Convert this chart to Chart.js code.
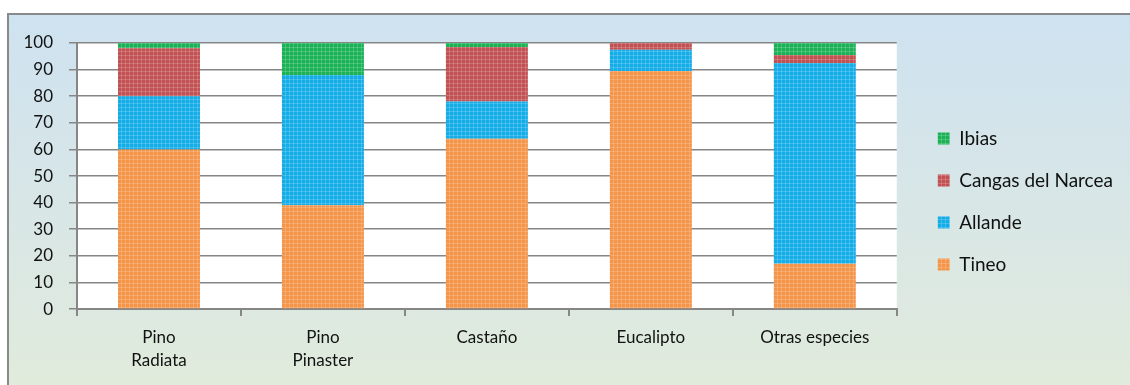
<!DOCTYPE html>
<html>
<head>
<meta charset="utf-8">
<script src="https://cdn.jsdelivr.net/npm/chart.js@4.4.0/dist/chart.umd.min.js"></script>
<style>
  html, body { margin: 0; padding: 0; background: #fff; overflow: hidden; }
  #frame {
    position: absolute; left: 7px; top: 13px;
    width: 1140px; height: 390px;
    border: 2px solid #898989;
    background: linear-gradient(to bottom, #cee2f0 0%, #d8e6e6 50%, #e2ecdb 100%);
  }
  #wrap { position: absolute; left: 0; top: 0; width: 1121px; height: 370px; }
</style>
</head>
<body>
<div id="frame"><div id="wrap"><canvas id="myChart"></canvas></div></div>
<script>
const categories = [["Pino", "Radiata"], ["Pino", "Pinaster"], "Castaño", "Eucalipto", "Otras especies"];
const tineo = [60, 39, 64, 89.5, 17];
const allande = [20, 49, 14, 8, 75.5];
const cangas = [18, 0, 20.5, 2.5, 3];
const ibias = [2, 12, 1.5, 0, 4.5];

// dotted fill like the office chart texture
function dots(base) {
  const c = document.createElement("canvas");
  c.width = 4; c.height = 4;
  const g = c.getContext("2d");
  g.fillStyle = base;
  g.fillRect(0, 0, 4, 4);
  g.fillStyle = "rgba(255,255,255,0.18)";
  g.fillRect(0, 0, 4, 1);
  g.fillRect(0, 0, 1, 4);
  return g.createPattern(c, "repeat");
}

const plotBg = {
  id: "plotBg",
  beforeDraw(chart) {
    const { ctx, chartArea: a } = chart;
    ctx.save();
    ctx.fillStyle = "#ffffff";
    ctx.fillRect(a.left, a.top, a.right - a.left, a.bottom - a.top);
    ctx.restore();
  },
};

const ctx = document.getElementById("myChart").getContext("2d");
const myChart = new Chart(ctx, {
  type: "bar",
  data: {
    labels: categories,
    datasets: [
      { label: "Tineo", data: tineo, backgroundColor: dots("#f4954a") },
      { label: "Allande", data: allande, backgroundColor: dots("#14ade8") },
      { label: "Cangas del Narcea", data: cangas, backgroundColor: dots("#c25154") },
      { label: "Ibias", data: ibias, backgroundColor: dots("#1bb156") },
    ],
  },
  options: {
    responsive: true,
    maintainAspectRatio: false,
    animation: false,
    categoryPercentage: 1,
    barPercentage: 0.5,
    layout: { padding: { left: 8, top: 28, right: 7, bottom: 3 } },
    plugins: {
      tooltip: { enabled: false },
      legend: {
        position: "right",
        fullSize: false,
        align: "start",
        reverse: true,
        maxWidth: 320,
        title: { display: true, text: " ", font: { size: 10, lineHeight: 1 }, padding: { top: 53, bottom: 0 } },
        labels: {
          boxWidth: 12,
          boxHeight: 12,
          padding: 23,
          color: "#111",
          font: { family: "Lato", size: 19 },
        },
      },
    },
    scales: {
      x: {
        stacked: true,
        grid: { display: true, drawOnChartArea: false, color: "#868686", lineWidth: 2, tickLength: 7 },
        border: { color: "#868686", width: 2 },
        ticks: { color: "#111", font: { family: "Lato", size: 17, lineHeight: 1.41 }, padding: 9, maxRotation: 0 },
      },
      y: {
        stacked: true,
        min: 0,
        max: 100,
        afterFit: (s) => { s.width = 60; },
        grid: { color: "#868686", lineWidth: 1.5, tickLength: 8 },
        border: { color: "#868686", width: 2 },
        ticks: { stepSize: 10, color: "#111", font: { family: "Lato", size: 17 }, padding: 16 },
      },
      gap: {
        position: "right",
        display: true,
        afterFit: (s) => { s.width = 18; },
        grid: { display: false },
        border: { display: false },
        ticks: { display: false },
      },
    },
  },
  plugins: [plotBg],
});
</script>
</body>
</html>
